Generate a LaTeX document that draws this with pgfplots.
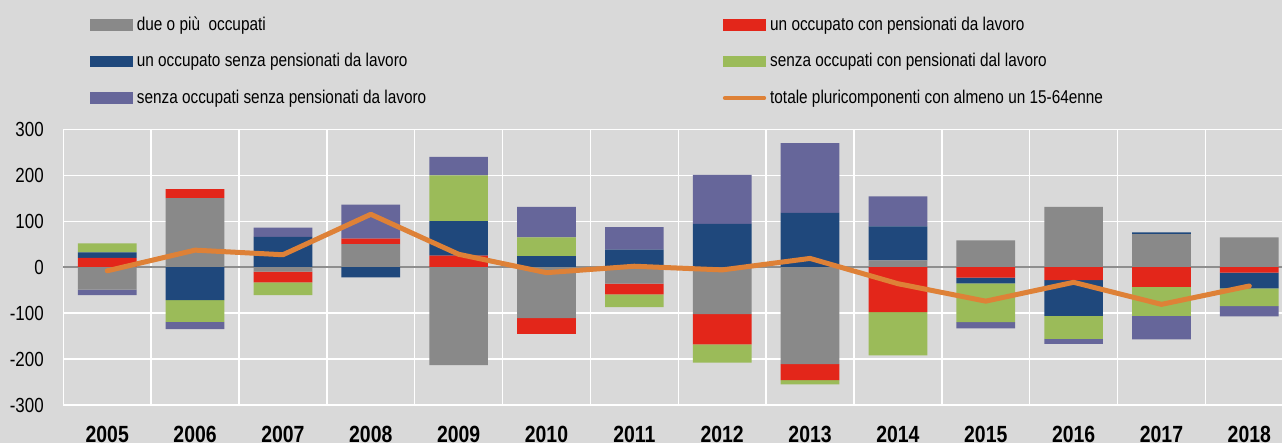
\documentclass[border=0pt]{standalone}
\usepackage{pgfplots}
\pgfplotsset{compat=1.18}
\usepackage{pgfplotstable}
\usepackage{fontspec}
\setmainfont{Liberation Sans}[FakeStretch=0.83]
\definecolor{bg}{HTML}{D9D9D9}
\definecolor{cgray}{HTML}{898989}
\definecolor{cred}{HTML}{E3261A}
\definecolor{cblue}{HTML}{1F487C}
\definecolor{cgreen}{HTML}{9BBB59}
\definecolor{cpurple}{HTML}{66669A}
\definecolor{corange}{HTML}{DE8137}
\definecolor{czero}{HTML}{8E8E8E}

\pgfplotstableread{
x  gp   gn    rp  rn   bp   bn    vp   vn   pp   pn   tot
0  0    -49   20  0    12   0     20   0    0    -12  -8
1  150  0     20  0    0    -72   0    -47  0    -16  37
2  0    -10   0   -23  66   0     0    -28  20   0    27
3  50   0     12  0    0    -22   0    0    74   0    115
4  0    -213  25  0    75   0     100  0    40   0    28
5  0    -111  0   -34  24   0     41   0    66   0    -12
6  0    -36   0   -23  38   0     0    -28  49   0    2
7  0    -102  0   -66  94   0     0    -40  107  0    -6
8  0    -211  0   -35  118  0     0    -9   152  0    19
9  15   0     0   -98  74   0     0    -94  65   0    -36
10 58   0     0   -23  0    -12.5 0    -84  0    -14  -74
11 131  0     0   -28  0    -78   0    -50  0    -11  -33
12 72   0     0   -43  3.5  0     0    -63  0    -51  -81
13 65   0     0   -12  0    -34   0    -39  0    -22  -41
}\data

\pgfplotsset{
  common/.style={scale only axis, width=609.35pt, height=137.85pt,
    at={(31.65pt,19pt)}, anchor=south west,
    xmin=-0.5, xmax=13.372, ymin=-300, ymax=300},
  patch/.style={legend image code/.code={\fill[##1] (0pt,-2.925pt) rectangle (21.25pt,2.925pt);}},
}

\begin{document}
\begin{tikzpicture}
\useasboundingbox (0,0) rectangle (641pt,221.5pt);
\fill[bg] (0,0) rectangle (641pt,221.5pt);
\begin{axis}[common, ybar stacked, bar width=0.668,
  axis line style={draw=none}, major tick length=0pt, minor tick length=0pt,
  ytick={-300,-200,-100,0,100,200,300},
  xtick={0,1,2,3,4,5,6,7,8,9,10,11,12,13},
  xticklabels={2005,2006,2007,2008,2009,2010,2011,2012,2013,2014,2015,2016,2017,2018},
  minor xtick={-0.5,0.5,1.5,2.5,3.5,4.5,5.5,6.5,7.5,8.5,9.5,10.5,11.5,12.5},
  xminorgrids=true, ymajorgrids=true, xmajorgrids=false,
  grid style={white, line width=0.67pt},
  minor grid style={white, line width=0.67pt},
  extra y ticks={0}, extra y tick labels={},
  extra y tick style={grid style={czero, line width=0.85pt}},
  /pgf/number format/assume math mode=true,
  yticklabel style={font=\fontsize{10.2}{12}\selectfont, xshift=-6.25pt},
  xticklabel style={font=\bfseries\fontsize{11.7}{14}\selectfont, yshift=-6.9pt},
  legend columns=2,
  legend cell align=left,
  legend style={at={(0.0219,1.424)}, anchor=north west, draw=none, fill=none,
    inner sep=0pt, row sep=6pt, column sep=0pt,
    font=\fontsize{9.25}{11}\selectfont},
]
\addplot[patch, fill=cgray, draw=none] table[x=x,y=gp]{\data};
\addlegendentry{\makebox[291pt][l]{due o più~ occupati}}
\addplot[patch, fill=cred, draw=none] table[x=x,y=rp]{\data};
\addlegendentry{un occupato con pensionati da lavoro}
\addplot[patch, fill=cblue, draw=none] table[x=x,y=bp]{\data};
\addlegendentry{\makebox[291pt][l]{un occupato senza pensionati da lavoro}}
\addplot[patch, fill=cgreen, draw=none] table[x=x,y=vp]{\data};
\addlegendentry{senza occupati con pensionati dal lavoro}
\addplot[patch, fill=cpurple, draw=none] table[x=x,y=pp]{\data};
\addlegendentry{\makebox[291pt][l]{senza occupati senza pensionati da lavoro}}
\addlegendimage{legend image code/.code={\draw[corange, line width=2pt, line cap=round] (0.8pt,0pt) -- (20.45pt,0pt);}}
\addlegendentry{totale pluricomponenti con almeno un 15-64enne}
\end{axis}
\begin{axis}[common, hide axis, ybar stacked, bar width=0.668]
\addplot[fill=cgray, draw=none] table[x=x,y=gn]{\data};
\addplot[fill=cred, draw=none] table[x=x,y=rn]{\data};
\addplot[fill=cblue, draw=none] table[x=x,y=bn]{\data};
\addplot[fill=cgreen, draw=none] table[x=x,y=vn]{\data};
\addplot[fill=cpurple, draw=none] table[x=x,y=pn]{\data};
\end{axis}
\begin{axis}[common, hide axis]
\addplot[corange, line width=2.5pt, line join=round, line cap=round, mark=none] table[x=x,y=tot]{\data};
\end{axis}
\end{tikzpicture}
\end{document}
